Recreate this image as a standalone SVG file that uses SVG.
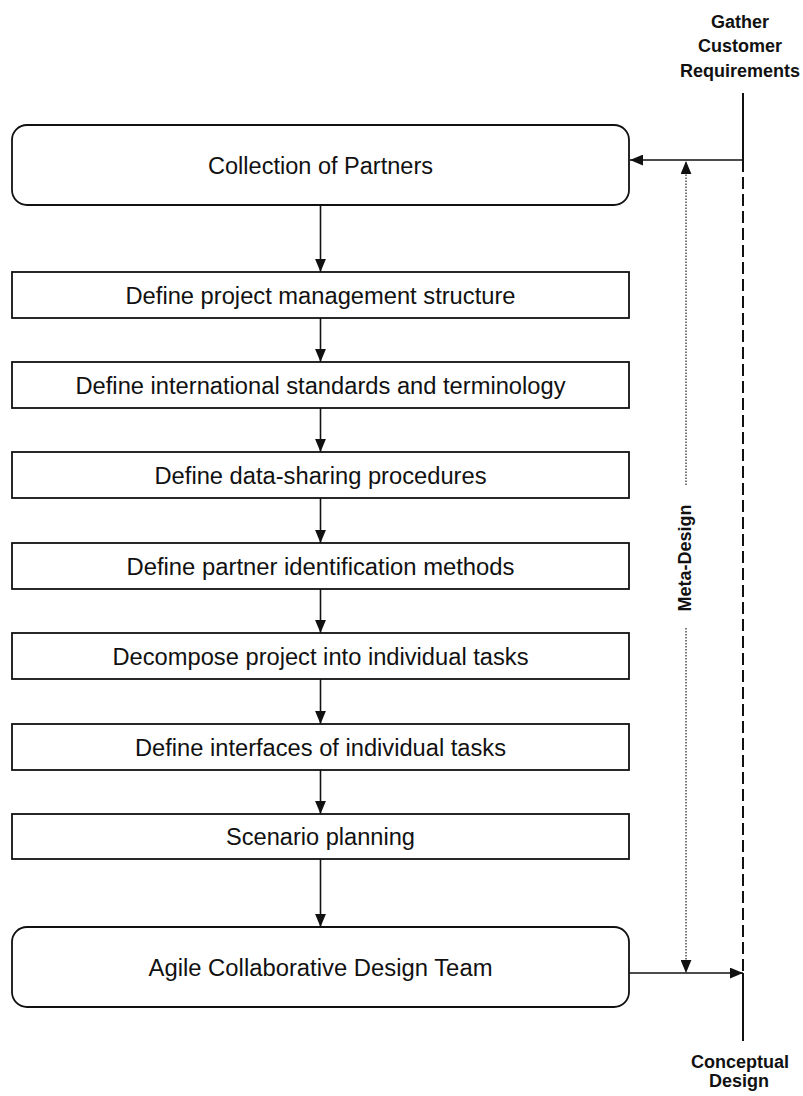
<svg xmlns="http://www.w3.org/2000/svg" width="803" height="1096" viewBox="0 0 803 1096">
  <style>
    .box { fill: #fff; stroke: #111; stroke-width: 1.8; }
    .lbl { font-family: "Liberation Sans", Arial, sans-serif; font-size: 23.5px; fill: #111; text-anchor: middle; }
    .side { font-family: "Liberation Sans", Arial, sans-serif; font-size: 18px; font-weight: bold; fill: #111; text-anchor: middle; }
    .flow { fill: none; stroke: #111; stroke-width: 1.6; }
    .rail { fill: none; stroke: #111; stroke-width: 2; }
    .dash { fill: none; stroke: #111; stroke-width: 2; stroke-dasharray: 12 5; }
    .dot { fill: none; stroke: #333; stroke-width: 1.3; stroke-dasharray: 1.5 1.5; }
  </style>
  <defs>
    <marker id="arrow" markerUnits="userSpaceOnUse" markerWidth="13" markerHeight="11" viewBox="0 0 12 10" refX="12" refY="5" orient="auto">
      <path d="M0,0 L12,5 L0,10 z" fill="#111"/>
    </marker>
  </defs>

  <!-- process nodes -->
  <g id="collection">
    <rect class="box" x="12" y="125" width="617" height="80" rx="15"/>
    <text class="lbl" x="320.5" y="174" textLength="225" lengthAdjust="spacingAndGlyphs">Collection of Partners</text>
  </g>
  <g id="pm-structure">
    <rect class="box" x="12" y="272" width="617" height="46"/>
    <text class="lbl" x="320.5" y="303.5" textLength="390" lengthAdjust="spacingAndGlyphs">Define project management structure</text>
  </g>
  <g id="standards">
    <rect class="box" x="12" y="362" width="617" height="46"/>
    <text class="lbl" x="320.5" y="393.5" textLength="490" lengthAdjust="spacingAndGlyphs">Define international standards and terminology</text>
  </g>
  <g id="data-sharing">
    <rect class="box" x="12" y="452" width="617" height="46"/>
    <text class="lbl" x="320.5" y="483.5" textLength="332" lengthAdjust="spacingAndGlyphs">Define data-sharing procedures</text>
  </g>
  <g id="partner-id">
    <rect class="box" x="12" y="543" width="617" height="46"/>
    <text class="lbl" x="320.5" y="574.5" textLength="388" lengthAdjust="spacingAndGlyphs">Define partner identification methods</text>
  </g>
  <g id="decompose">
    <rect class="box" x="12" y="633" width="617" height="46"/>
    <text class="lbl" x="320.5" y="664.5" textLength="416" lengthAdjust="spacingAndGlyphs">Decompose project into individual tasks</text>
  </g>
  <g id="interfaces">
    <rect class="box" x="12" y="724" width="617" height="46"/>
    <text class="lbl" x="320.5" y="755.5" textLength="371" lengthAdjust="spacingAndGlyphs">Define interfaces of individual tasks</text>
  </g>
  <g id="scenario">
    <rect class="box" x="12" y="814" width="617" height="45"/>
    <text class="lbl" x="320.5" y="845" textLength="189" lengthAdjust="spacingAndGlyphs">Scenario planning</text>
  </g>
  <g id="agile-team">
    <rect class="box" x="12" y="927" width="617" height="80" rx="15"/>
    <text class="lbl" x="320.5" y="975.5" textLength="344" lengthAdjust="spacingAndGlyphs">Agile Collaborative Design Team</text>
  </g>

  <!-- phase rail labels -->
  <g id="gather">
    <text class="side" x="740" y="28">Gather</text>
    <text class="side" x="740" y="52">Customer</text>
    <text class="side" x="740" y="77">Requirements</text>
  </g>
  <g id="conceptual">
    <text class="side" x="740" y="1068">Conceptual</text>
    <text class="side" x="739" y="1087">Design</text>
  </g>
  <g id="meta-design">
    <text class="side" transform="translate(691,558) rotate(-90)">Meta-Design</text>
  </g>

  <!-- connectors -->
  <g id="connectors">
    <path class="flow" d="M320.5,205 V272" marker-end="url(#arrow)"/>
    <path class="flow" d="M320.5,318 V362" marker-end="url(#arrow)"/>
    <path class="flow" d="M320.5,408 V452" marker-end="url(#arrow)"/>
    <path class="flow" d="M320.5,498 V543" marker-end="url(#arrow)"/>
    <path class="flow" d="M320.5,589 V633" marker-end="url(#arrow)"/>
    <path class="flow" d="M320.5,679 V724" marker-end="url(#arrow)"/>
    <path class="flow" d="M320.5,770 V814" marker-end="url(#arrow)"/>
    <path class="flow" d="M320.5,859 V927" marker-end="url(#arrow)"/>

    <!-- phase rail -->
    <path class="rail" d="M743,93 V160"/>
    <path class="dash" d="M743,160 V973"/>
    <path class="rail" d="M743,973 V1041"/>
    <path class="flow" d="M743,160 H630" marker-end="url(#arrow)"/>
    <path class="flow" d="M629,973 H743" marker-end="url(#arrow)"/>

    <!-- meta-design span -->
    <path class="dot" d="M686,485 V161" marker-end="url(#arrow)"/>
    <path class="dot" d="M686,628 V973" marker-end="url(#arrow)"/>
  </g>
</svg>
